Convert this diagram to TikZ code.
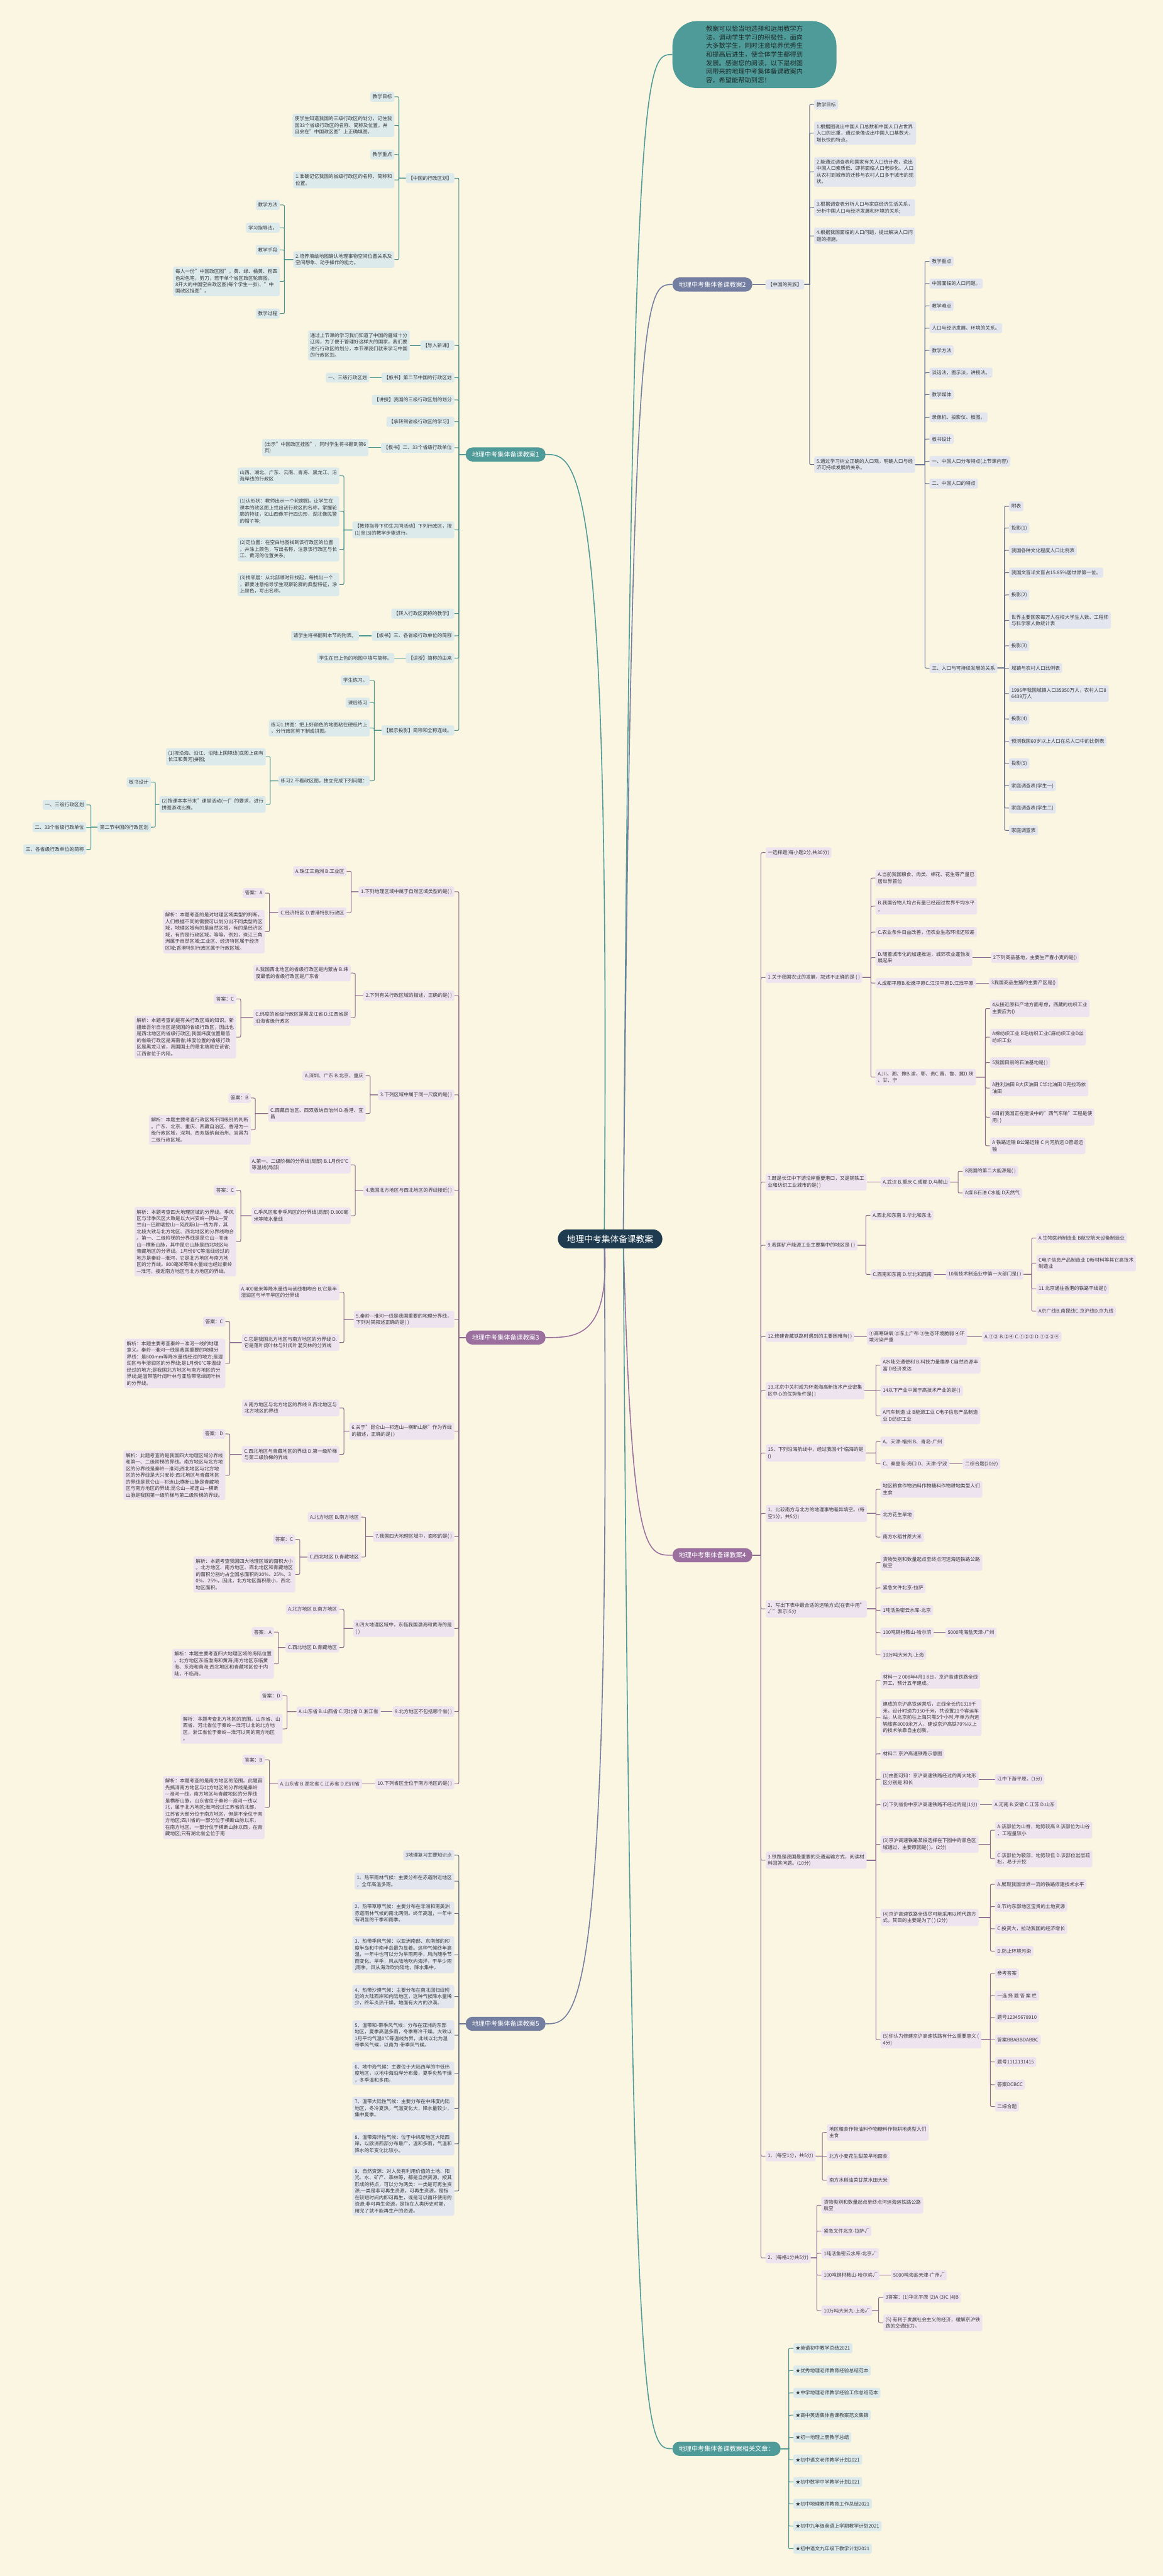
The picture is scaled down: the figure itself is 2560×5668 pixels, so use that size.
\documentclass[tikz,border=0pt]{standalone}
\usepackage{fontspec}
\setmainfont{Noto Sans CJK SC}
\usetikzlibrary{calc}
\definecolor{bgc}{HTML}{FBF6E1}
\definecolor{navy}{HTML}{1E3B4F}
\definecolor{tealM}{HTML}{4F9B99}
\definecolor{slateM}{HTML}{747EA0}
\definecolor{purpM}{HTML}{9B709F}
\definecolor{tealL}{HTML}{DCEAEC}
\definecolor{slateL}{HTML}{E3E6EF}
\definecolor{purpL}{HTML}{EEE4EF}
\definecolor{tealD}{HTML}{4A9593}
\definecolor{slateD}{HTML}{66708F}
\definecolor{purpD}{HTML}{8C6A90}
\definecolor{txt}{HTML}{3A3A3A}
\definecolor{topT}{HTML}{1E2B2B}
\pgfdeclarelayer{back}\pgfdeclarelayer{bg}\pgfsetlayers{back,bg,main}
\tikzset{
 nb/.style={rectangle, rounded corners=4pt, inner xsep=5pt, inner ysep=6pt, align=left, text=txt, font=\fontsize{10.7}{14.5}\selectfont},
 lt/.style={nb, fill=tealL},
 ls/.style={nb, fill=slateL},
 lp/.style={nb, fill=purpL},
 cT/.style={draw=tealD, line width=1.4pt},
 cS/.style={draw=slateD, line width=1.4pt},
 cP/.style={draw=purpD, line width=1.4pt},
 mT/.style={draw=tealM, line width=2.2pt},
 mS/.style={draw=slateM, line width=2.2pt},
 mP/.style={draw=purpM, line width=2.2pt},
 br/.style={rectangle, rounded corners=15pt, minimum height=31pt, inner xsep=14pt, text=white, font=\fontsize{14}{17}\selectfont},
}
\newcommand\nR[4]{\node[#1,anchor=west] (#2) at (#3) {#4};}
\newcommand\nL[4]{\node[#1,anchor=east] (#2) at (#3) {#4};}
\newcommand\conR[3]{\foreach \nd in {#3}{\draw[#1] let \p1=(#2.east), \p2=([xshift=-10pt]\nd.west) in (\p1) -- (\x2,\y1) -- (\x2,{\y2+min(6,max(-6,(\y1)-(\y2)))}) .. controls (\x2,\y2) .. (\x2+6pt,\y2) -- (\nd.west);}}
\newcommand\conL[3]{\foreach \nd in {#3}{\draw[#1] let \p1=(#2.west), \p2=([xshift=10pt]\nd.east) in (\p1) -- (\x2,\y1) -- (\x2,{\y2+min(6,max(-6,(\y1)-(\y2)))}) .. controls (\x2,\y2) .. (\x2-6pt,\y2) -- (\nd.east);}}
\begin{document}
\begin{tikzpicture}[x=1pt,y=-1pt]
\useasboundingbox (0,0) rectangle (2560,5668);
\begin{pgfonlayer}{back}
\fill[bgc] (0,0) rectangle (2560,5668);
\end{pgfonlayer}
% center
\node[fill=navy, text=white, rounded corners=21pt, minimum height=42pt, inner xsep=20pt, font=\fontsize{19}{22}\selectfont] (C) at (1343,2726) {地理中考集体备课教案};
% top box
\node[fill=tealM, text=topT, rounded corners=55pt, inner xsep=74pt, inner ysep=10pt, align=left, font=\fontsize{14.2}{19}\selectfont, anchor=west] (TOP) at (1480,120) {教案可以恰当地选择和运用教学方\\法，调动学生学习的积极性，面向\\大多数学生，同时注意培养优秀生\\和提高后进生，使全体学生都得到\\发展。感谢您的阅读，以下是树图\\网带来的地理中考集体备课教案内\\容，希望能帮助到您！};
% branches
\node[br, fill=slateM, anchor=west] (B2) at (1480,626) {地理中考集体备课教案2};
\node[br, fill=purpM, anchor=west] (B4) at (1480,3422) {地理中考集体备课教案4};
\node[br, fill=tealM, anchor=west] (B6) at (1480,5388) {地理中考集体备课教案相关文章：};
\node[br, fill=tealM, anchor=east] (B1) at (1201,1000) {地理中考集体备课教案1};
\node[br, fill=purpM, anchor=east] (B3) at (1201,2943) {地理中考集体备课教案3};
\node[br, fill=slateM, anchor=east] (B5) at (1201,4453) {地理中考集体备课教案5};

% ===== 教案2 =====
\nR{ls}{b2a}{1685,626}{【中国的民族】}
\nR{ls}{b2a1}{1792,230}{教学目标}
\nR{ls}{b2a2}{1792,293}{1.根据图说出中国人口总数和中国人口占世界\\人口的比重，通过录像说出中国人口基数大，\\增长快的特点。}
\nR{ls}{b2a3}{1792,378}{2.能通过调查表和国家有关人口统计表，说出\\中国人口素质低、即将面临人口老龄化、人口\\从农村到城市的迁移与农村人口多于城市的现\\状。}
\nR{ls}{b2a4}{1792,457}{3.根据调查表分析人口与家庭经济生活关系，\\分析中国人口与经济发展和环境的关系;}
\nR{ls}{b2a5}{1792,519}{4.根据我国面临的人口问题，提出解决人口问\\题的措施。}
\nR{ls}{b2a6}{1792,1022}{5.通过学习树立正确的人口观，明确人口与经\\济可持续发展的关系。}
\nR{ls}{b2b1}{2046,575}{教学重点}
\nR{ls}{b2b2}{2046,624}{中国面临的人口问题。}
\nR{ls}{b2b3}{2046,673}{教学难点}
\nR{ls}{b2b4}{2046,722}{人口与经济发展、环境的关系。}
\nR{ls}{b2b5}{2046,771}{教学方法}
\nR{ls}{b2b6}{2046,820}{谈话法，图示法，讲授法。}
\nR{ls}{b2b7}{2046,868}{教学媒体}
\nR{ls}{b2b8}{2046,918}{录像机、投影仪、板图。}
\nR{ls}{b2b9}{2046,966}{板书设计}
\nR{ls}{b2b10}{2046,1015}{一、中国人口分布特点(上节课内容)}
\nR{ls}{b2b11}{2046,1064}{二、中国人口的特点}
\nR{ls}{b2b12}{2046,1470}{三、人口与可持续发展的关系}
\nR{ls}{c1}{2221,1114}{附表}
\nR{ls}{c2}{2221,1162}{投影(1)}
\nR{ls}{c3}{2221,1211}{我国各种文化程度人口比例表}
\nR{ls}{c4}{2221,1260}{我国文盲半文盲占15.85\%居世界第一位。}
\nR{ls}{c5}{2221,1309}{投影(2)}
\nR{ls}{c6}{2221,1365}{世界主要国家每万人在校大学生人数、工程师\\与科学家人数统计表}
\nR{ls}{c7}{2221,1421}{投影(3)}
\nR{ls}{c8}{2221,1470}{城镇与农村人口比例表}
\nR{ls}{c9}{2221,1526}{1996年我国城镇人口35950万人，农村人口8\\6439万人}
\nR{ls}{c10}{2221,1582}{投影(4)}
\nR{ls}{c11}{2221,1631}{预测我国60岁以上人口在总人口中的比例表}
\nR{ls}{c12}{2221,1680}{投影(5)}
\nR{ls}{c13}{2221,1729}{家庭调查表(学生一)}
\nR{ls}{c14}{2221,1778}{家庭调查表(学生二)}
\nR{ls}{c15}{2221,1827}{家庭调查表}

% ===== 教案4 =====
\nR{lp}{d1}{1685,1876}{一选择题(每小题2分,共30分)}
\nR{lp}{d2}{1685,2151}{1.关于我国农业的发展，叙述不正确的是 ( )}
\nR{lp}{d3}{1685,2601}{7.既是长江中下游沿岸重要港口，又是钢铁工\\业和纺织工业城市的是( )}
\nR{lp}{d4}{1685,2740}{9.我国矿产能源工业主要集中的地区是 ( )}
\nR{lp}{d5}{1685,2941}{12.修建青藏铁路时遇到的主要困难有( )}
\nR{lp}{d6}{1685,3060}{13.北京中关村成为环渤海高新技术产业密集\\区中心的优势条件是( )}
\nR{lp}{d7}{1685,3197}{15、下列沿海航线中，经过我国4个临海的是\\()}
\nR{lp}{d8}{1685,3330}{1、比较南方与北方的地理事物差异填空。(每\\空1分，共5分)}
\nR{lp}{d9}{1685,3540}{2、写出下表中最合适的运输方式(在表中用"\\√"表示)5分}
\nR{lp}{d10}{1685,4093}{3.铁路是我国最重要的交通运输方式，阅读材\\料回答问题。(10分)}
\nR{lp}{d11}{1685,4744}{1、(每空1分，共5分)}
\nR{lp}{d12}{1685,4968}{2、(每格1分共5分)}
% d2
\nR{lp}{d2a}{1927,1932}{A.当前我国粮食、肉类、棉花、花生等产量已\\居世界首位}
\nR{lp}{d2b}{1927,1994}{B.我国谷物人均占有量已经超过世界平均水平\\，}
\nR{lp}{d2c}{1927,2051}{C.农业条件日益改善，但农业生态环境还较差}
\nR{lp}{d2d}{1927,2107}{D.随着城市化的加速推进，城郊农业蓬勃发\\展起来}
\nR{lp}{d2d1}{2181,2107}{2下列商品基地，主要生产春小麦的是()}
\nR{lp}{d2e}{1927,2163}{A.成都平原B.松嫩平原C.江汉平原D.江淮平原}
\nR{lp}{d2e1}{2177,2163}{3我国商品生猪的主要产区是()}
\nR{lp}{d2f}{1927,2370}{A.川、湘、豫B.渝、鄂、贵C.晋、鲁、冀D.陕\\、甘、宁}
\nR{lp}{d2f1}{2179,2219}{4从接近原料产地方面考虑，西藏的纺织工业\\主要应为()}
\nR{lp}{d2f2}{2179,2282}{A棉纺织工业 B毛纺织工业C麻纺织工业D丝\\纺织工业}
\nR{lp}{d2f3}{2179,2338}{5我国目前的石油基地是( )}
\nR{lp}{d2f4}{2179,2394}{A胜利油田 B大庆油田 C华北油田 D克拉玛依\\油田}
\nR{lp}{d2f5}{2179,2458}{6目前我国正在建设中的"西气东输"工程是使\\用( )}
\nR{lp}{d2f6}{2179,2521}{A 铁路运输 B公路运输 C 内河航运 D管道运\\输}
% d3
\nR{lp}{d3a}{1938,2601}{A.武汉 B.重庆 C.成都 D.马鞍山}
\nR{lp}{d3a1}{2119,2577}{8我国的第二大能源是( )}
\nR{lp}{d3a2}{2119,2625}{A煤 B石油 C水能 D天然气}
% d4
\nR{lp}{d4a}{1916,2674}{A.西北和东南 B.华北和东北}
\nR{lp}{d4b}{1916,2804}{C.西南和东南 D.华北和西南}
\nR{lp}{d4b1}{2082,2804}{10高技术制造业中第一大部门是( )}
\nR{lp}{d4c1}{2281,2724}{A 生物医药制造业 B航空航天设备制造业}
\nR{lp}{d4c2}{2281,2779}{C电子信息产品制造业 D新材料等其它高技术\\制造业}
\nR{lp}{d4c3}{2281,2836}{11 北京通往香港的铁路干线是()}
\nR{lp}{d4c4}{2281,2885}{A京广线B.南昆线C.京沪线D.京九线}
% d5
\nR{lp}{d5a}{1908,2941}{①高寒缺氧 ②冻土广布 ③生态环境脆弱 ④环\\境污染严重}
\nR{lp}{d5b}{2162,2941}{A.①③ B.②④ C.①②③ D.①②③④}
% d6
\nR{lp}{d6a}{1938,3004}{A水陆交通便利 B.科技力量雄厚 C自然资源丰\\富 D经济发达}
\nR{lp}{d6b}{1938,3060}{14以下产业中属于高技术产业的是( )}
\nR{lp}{d6c}{1938,3115}{A汽车制造 业 B能源工业 C电子信息产品制造\\业 D纺织工业}
% d7
\nR{lp}{d7a}{1938,3172}{A、天津-福州 B、青岛-广州}
\nR{lp}{d7b}{1938,3221}{C、秦皇岛-海口 D、天津-宁波}
\nR{lp}{d7b1}{2119,3221}{二综合题(20分)}
% d8
\nR{lp}{d8a}{1938,3277}{地区粮食作物油料作物糖料作物耕地类型人们\\主食}
\nR{lp}{d8b}{1938,3333}{北方花生旱地}
\nR{lp}{d8c}{1938,3382}{南方水稻甘蔗大米}
% d9
\nR{lp}{d9a}{1938,3438}{货物类别和数量起点至终点河运海运铁路公路\\航空}
\nR{lp}{d9b}{1938,3494}{紧急文件北京-拉萨}
\nR{lp}{d9c}{1938,3543}{1吨活鱼密云水库-北京}
\nR{lp}{d9d}{1938,3592}{100吨钢材鞍山-哈尔滨}
\nR{lp}{d9d1}{2081,3592}{5000吨海盐天津-广州}
\nR{lp}{d9e}{1938,3641}{10万吨大米九-上海}
% d10
\nR{lp}{e1}{1938,3697}{材料一 2 008年4月1 8日，京沪高速铁路全线\\开工，预计五年建成。}
\nR{lp}{e2}{1938,3779}{建成的京沪高铁运营后，正线全长约1318千\\米，设计时速为350千米，共设置21个客运车\\站。从北京前往上海只需5个小时,年单方向运\\输旅客8000余万人，建设京沪高铁70％以上\\的技术依靠自主创新。}
\nR{lp}{e3}{1938,3859}{材料二 京沪高速铁路示意图}
\nR{lp}{e4}{1938,3915}{(1)由图可知：京沪高速铁路经过的两大地形\\区分别是 和长}
\nR{lp}{e4a}{2190,3915}{江中下游平原。(1分)}
\nR{lp}{e5}{1938,3971}{(2)下列省份中京沪高速铁路不经过的是(1分)}
\nR{lp}{e5a}{2184,3971}{A.河南 B.安徽 C.江苏 D.山东}
\nR{lp}{e6}{1938,4058}{(3)京沪高速铁路某段选择在下图中的黑色区\\域通过，主要原因是( )。(2分)}
\nR{lp}{e6a}{2190,4027}{A.该部位为山脊，地势较高 B.该部位为山谷\\，工程量较小}
\nR{lp}{e6b}{2190,4090}{C.该部位为鞍部，地势较低 D.该部位岩层疏\\松，易于开挖}
\nR{lp}{e7}{1938,4219}{(4)京沪高速铁路全线尽可能采用以桥代路方\\式，其目的主要是为了( ) (2分)}
\nR{lp}{e7a}{2190,4146}{A.展现我国世界一流的铁路修建技术水平}
\nR{lp}{e7b}{2190,4195}{B.节约东部地区宝贵的土地资源}
\nR{lp}{e7c}{2190,4244}{C.投资大，拉动我国的经济增长}
\nR{lp}{e7d}{2190,4293}{D.防止环境污染}
\nR{lp}{e8}{1938,4488}{(5)你认为修建京沪高速铁路有什么重要意义 (\\4分)}
\nR{lp}{e8a}{2190,4342}{参考答案}
\nR{lp}{e8b}{2190,4391}{一选 择 题 答 案 栏}
\nR{lp}{e8c}{2190,4439}{题号12345678910}
\nR{lp}{e8d}{2190,4488}{答案BBABBDABBC}
\nR{lp}{e8e}{2190,4537}{题号1112131415}
\nR{lp}{e8f}{2190,4587}{答案DCBCC}
\nR{lp}{e8g}{2190,4635}{二综合题}
% d11
\nR{lp}{d11a}{1820,4692}{地区粮食作物油料作物糖料作物耕地类型人们\\主食}
\nR{lp}{d11b}{1820,4744}{北方小麦花生甜菜旱地面食}
\nR{lp}{d11c}{1820,4797}{南方水稻油菜甘蔗水田大米}
% d12
\nR{lp}{d12a}{1808,4852}{货物类别和数量起点至终点河运海运铁路公路\\航空}
\nR{lp}{d12b}{1808,4909}{紧急文件北京-拉萨√}
\nR{lp}{d12c}{1808,4958}{1吨活鱼密云水库-北京√}
\nR{lp}{d12d}{1808,5006}{100吨钢材鞍山-哈尔滨√}
\nR{lp}{d12d1}{1961,5006}{5000吨海盐天津-广州√}
\nR{lp}{d12e}{1808,5084}{10万吨大米九-上海√}
\nR{lp}{d12e1}{1944,5055}{3答案：(1)华北平原 (2)A (3)C (4)B}
\nR{lp}{d12e2}{1944,5111}{(5) 有利于发展社会主义的经济，缓解京沪铁\\路的交通压力。}

% ===== 相关文章 =====
\nR{lt}{h1}{1746,5167}{★英语初中教学总结2021}
\nR{lt}{h2}{1746,5216}{★优秀地理老师教育经验总结范本}
\nR{lt}{h3}{1746,5265}{★中学地理老师教学经验工作总结范本}
\nR{lt}{h4}{1746,5314}{★高中英语集体备课教案范文集锦}
\nR{lt}{h5}{1746,5363}{★初一地理上册教学总结}
\nR{lt}{h6}{1746,5412}{★初中语文老师教学计划2021}
\nR{lt}{h7}{1746,5461}{★初中数学中学教学计划2021}
\nR{lt}{h8}{1746,5509}{★初中地理教师教育工作总结2021}
\nR{lt}{h9}{1746,5558}{★初中九年级英语上学期教学计划2021}
\nR{lt}{h10}{1746,5608}{★初中语文九年级下教学计划2021}

% ===== 教案1 =====
\nL{lt}{a1}{1000,392}{【中国的行政区划】}
\nL{lt}{a1a}{868,213}{教学目标}
\nL{lt}{a1b}{868,276}{使学生知道我国的三级行政区的划分，记住我\\国33个省级行政区的名称、简称及位置，并\\且会在"中国政区图"上正确填图。}
\nL{lt}{a1c}{868,340}{教学重点}
\nL{lt}{a1d}{868,396}{1.准确记忆我国的省级行政区的名称、简称和\\位置。}
\nL{lt}{a1e}{868,571}{2.培养填绘地图确认地理事物空间位置关系及\\空间想象、动手操作的能力。}
\nL{lt}{a1e1}{616,451}{教学方法}
\nL{lt}{a1e2}{616,501}{学习指导法。}
\nL{lt}{a1e3}{616,550}{教学手段}
\nL{lt}{a1e4}{616,619}{每人一份"中国政区图"，黄、绿、橘黄、粉四\\色彩色笔，剪刀，若干单个省区政区轮廓图，\\8开大的中国空白政区图(每个学生一张)、"中\\国政区挂图"。}
\nL{lt}{a1e5}{616,690}{教学过程}
\nL{lt}{a2}{1000,760}{【导入新课】}
\nL{lt}{a2a}{902,760}{通过上节课的学习我们知道了中国的疆域十分\\辽阔，为了便于管理好这样大的国家，我们要\\进行行政区的划分，本节课我们就来学习中国\\的行政区划。}
\nL{lt}{a3}{1000,831}{【板书】第二节中国的行政区划}
\nL{lt}{a3a}{813,831}{一、三级行政区划}
\nL{lt}{a4}{1000,880}{【讲授】我国的三级行政区划的划分}
\nL{lt}{a5}{1000,928}{【承转到省级行政区的学习】}
\nL{lt}{a6}{1000,985}{【板书】二、33个省级行政单位}
\nL{lt}{a6a}{811,985}{(出示"中国政区挂图"，同时学生将书翻到第6\\页)}
\nL{lt}{a7}{1000,1166}{【教师指导下师生共同活动】下列行政区，按\\(1)至(3)的教学步骤进行。}
\nL{lt}{a7a}{747,1047}{山西、湖北、广东、云南、青海、黑龙江、沿\\海岸线的行政区}
\nL{lt}{a7b}{747,1125}{(1)认形状：教师出示一个轮廓图，让学生在\\课本的政区图上找出该行政区的名称，掌握轮\\廓的特征，如山西像平行四边形，湖北像民警\\的帽子等;}
\nL{lt}{a7c}{747,1209}{(2)定位置：在空白地图找到该行政区的位置\\，并涂上颜色，写出名称，注意该行政区与长\\江、黄河的位置关系;}
\nL{lt}{a7d}{747,1286}{(3)找邻居：从北部顺时针找起，每找出一个\\，都要注意指导学生观察轮廓的典型特征，涂\\上颜色，写出名称。}
\nL{lt}{a8}{1000,1350}{【转入行政区简称的教学】}
\nL{lt}{a9}{1000,1399}{【板书】三、各省级行政单位的简称}
\nL{lt}{a9a}{790,1399}{请学生将书翻到本节的附表。}
\nL{lt}{a10}{1000,1448}{【讲授】简称的由来}
\nL{lt}{a10a}{868,1448}{学生在已上色的地图中填写简称。}
\nL{lt}{a11}{1000,1607}{【展示投影】简称和全称连线。}
\nL{lt}{a11a}{814,1497}{学生练习。}
\nL{lt}{a11b}{814,1546}{课后练习}
\nL{lt}{a11c}{814,1602}{练习1.拼图：把上好颜色的地图粘在硬纸片上\\，分行政区剪下制成拼图。}
\nL{lt}{a11d}{814,1718}{练习2.不看政区图，独立完成下列问题：}
\nL{lt}{a11d1}{585,1665}{(1)按沿海、沿江、沿陆上国境线(底图上画有\\长江和黄河)拼图;}
\nL{lt}{a11d2}{585,1770}{(2)按课本本节末"课堂活动(一)"的要求，进行\\拼图游戏比赛。}
\nL{lt}{a11e1}{332,1721}{板书设计}
\nL{lt}{a11e2}{332,1820}{第二节中国的行政区划}
\nL{lt}{a11f1}{190,1771}{一、三级行政区划}
\nL{lt}{a11f2}{190,1820}{二、33个省级行政单位}
\nL{lt}{a11f3}{190,1869}{三、各省级行政单位的简称}

% ===== 教案3 =====
\nL{lp}{f1}{1000,1962}{1.下列地理区域中属于自然区域类型的是( )}
\nL{lp}{f1a}{763,1917}{A.珠江三角洲 B.工业区}
\nL{lp}{f1b}{763,2008}{C.经济特区 D.香港特别行政区}
\nL{lp}{f1b1}{583,1965}{答案：A}
\nL{lp}{f1b2}{583,2050}{解析：本题考查的是对地理区域类型的判断。\\人们根据不同的需要可以划分出不同类型的区\\域，地理区域有的是自然区域，有的是经济区\\域，有的是行政区域，等等。例如，珠江三角\\洲属于自然区域;工业区、经济特区属于经济\\区域;香港特别行政区属于行政区域。}
\nL{lp}{f2}{1000,2191}{2.下列有关行政区域的描述，正确的是( )}
\nL{lp}{f2a}{772,2141}{A.我国西北地区的省级行政区是内蒙古 B.纬\\度最低的省级行政区是广东省}
\nL{lp}{f2b}{772,2239}{C.纬度的省级行政区是黑龙江省 D.江西省是\\沿海省级行政区}
\nL{lp}{f2b1}{520,2198}{答案：C}
\nL{lp}{f2b2}{520,2282}{解析：本题考查的是有关行政区域的知识。新\\疆维吾尔自治区是我国的省级行政区，因此也\\是西北地区的省级行政区;我国纬度位置最低\\的省级行政区是海南省;纬度位置的省级行政\\区是黑龙江省，我国国土的最北端就在该省;\\江西省位于内陆。}
\nL{lp}{f3}{1000,2409}{3.下列区域中属于同一尺度的是( )}
\nL{lp}{f3a}{805,2367}{A.深圳、广东 B.北京、重庆}
\nL{lp}{f3b}{805,2450}{C.西藏自治区、西双版纳自治州 D.香港、宜\\昌}
\nL{lp}{f3b1}{552,2416}{答案：B}
\nL{lp}{f3b2}{552,2486}{解析：本题主要考查行政区域不同级别的判断\\。广东、北京、重庆、西藏自治区、香港为一\\级行政区域，深圳、西双版纳自治州、宜昌为\\二级行政区域。}
\nL{lp}{f4}{1000,2620}{4.我国北方地区与西北地区的界线接近( )}
\nL{lp}{f4a}{772,2563}{A.第一、二级阶梯的分界线(局部) B.1月份0°C\\等温线(局部)}
\nL{lp}{f4b}{772,2675}{C.季风区和非季风区的分界线(局部) D.800毫\\米等降水量线}
\nL{lp}{f4b1}{520,2619}{答案：C}
\nL{lp}{f4b2}{520,2732}{解析：本题考查四大地理区域的分界线。季风\\区与非季风区大致是以大兴安岭—阴山—贺\\兰山—巴颜喀拉山—冈底斯山一线为界，其\\北段大致与北方地区、西北地区的分界线吻合\\。第一、二级阶梯的分界线是昆仑山—祁连\\山—横断山脉，其中昆仑山脉是西北地区与\\青藏地区的分界线。1月份0°C等温线经过的\\地方是秦岭—淮河，它是北方地区与南方地\\区的分界线。800毫米等降水量线也经过秦岭\\—淮河，接近南方地区与北方地区的界线。}
\nL{lp}{f5}{1000,2903}{5.秦岭—淮河一线是我国重要的地理分界线，\\下列对其叙述正确的是( )}
\nL{lp}{f5a}{747,2843}{A.400毫米等降水量线与该线相吻合 B.它是半\\湿润区与半干旱区的分界线}
\nL{lp}{f5b}{747,2954}{C.它是我国北方地区与南方地区的分界线 D.\\它是落叶阔叶林与针阔叶混交林的分界线}
\nL{lp}{f5b1}{496,2908}{答案：C}
\nL{lp}{f5b2}{496,3000}{解析：本题主要考查秦岭—淮河一线的地理\\意义。秦岭—淮河一线是我国重要的地理分\\界线：是800mm等降水量线经过的地方;是湿\\润区与半湿润区的分界线;是1月份0°C等温线\\经过的地方;是我国北方地区与南方地区的分\\界线;是温带落叶阔叶林与亚热带常绿阔叶林\\的分界线。}
\nL{lp}{f6}{1000,3149}{6.关于"昆仑山—祁连山—横断山脉"作为界线\\的描述，正确的是( )}
\nL{lp}{f6a}{747,3098}{A.南方地区与北方地区的界线 B.西北地区与\\北方地区的界线}
\nL{lp}{f6b}{747,3200}{C.西北地区与青藏地区的界线 D.第一级阶梯\\与第二级阶梯的界线}
\nL{lp}{f6b1}{496,3155}{答案：D}
\nL{lp}{f6b2}{496,3246}{解析：此题考查的是我国四大地理区域分界线\\和第一、二级阶梯的界线。南方地区与北方地\\区的分界线是秦岭—淮河;西北地区与北方地\\区的分界线是大兴安岭;西北地区与青藏地区\\的界线是昆仑山—祁连山;横断山脉是青藏地\\区与南方地区的界线;昆仑山—祁连山—横断\\山脉是我国第一级阶梯与第二级阶梯的界线。}
\nL{lp}{f7}{1000,3381}{7.我国四大地理区域中，面积的是( )}
\nL{lp}{f7a}{795,3338}{A.北方地区 B.南方地区}
\nL{lp}{f7b}{795,3426}{C.西北地区 D.青藏地区}
\nL{lp}{f7b1}{650,3387}{答案：C}
\nL{lp}{f7b2}{650,3464}{解析：本题考查我国四大地理区域的面积大小\\。北方地区、南方地区、西北地区和青藏地区\\的面积分别约占全国总面积的20\%、25\%、3\\0\%、25\%，因此，北方地区面积最小，西北\\地区面积。}
\nL{lp}{f8}{1000,3583}{8.四大地理区域中，东临我国渤海和黄海的是\\( )}
\nL{lp}{f8a}{747,3541}{A.北方地区 B.南方地区}
\nL{lp}{f8b}{747,3625}{C.西北地区 D.青藏地区}
\nL{lp}{f8b1}{603,3591}{答案：A}
\nL{lp}{f8b2}{603,3661}{解析：本题主要考查四大地理区域的海陆位置\\。北方地区东临渤海和黄海;南方地区东临黄\\海、东海和南海;西北地区和青藏地区位于内\\陆，不临海。}
\nL{lp}{f9}{1000,3766}{9.北方地区不包括哪个省( )}
\nL{lp}{f9a}{838,3766}{A.山东省 B.山西省 C.河北省 D.浙江省}
\nL{lp}{f9a1}{622,3731}{答案：D}
\nL{lp}{f9a2}{622,3804}{解析：本题考查北方地区的范围。山东省、山\\西省、河北省位于秦岭—淮河以北的北方地\\区，浙江省位于秦岭—淮河以南的南方地区\\。}
\nL{lp}{f10}{1000,3925}{10.下列省区全位于南方地区的是( )}
\nL{lp}{f10a}{797,3925}{A.山东省 B.湖北省 C.江苏省 D.四川省}
\nL{lp}{f10a1}{583,3872}{答案：B}
\nL{lp}{f10a2}{583,3977}{解析：本题考查的是南方地区的范围。此题首\\先搞清南方地区与北方地区的分界线是秦岭\\—淮河一线，南方地区与青藏地区的分界线\\是横断山脉。山东省位于秦岭—淮河一线以\\北，属于北方地区;淮河经过江苏省的北部，\\江苏省大部分位于南方地区，但是不全位于南\\方地区;四川省的一部分位于横断山脉以东，\\在南方地区，一部分位于横断山脉以西，在青\\藏地区;只有湖北省全位于南}

% ===== 教案5 =====
\nL{ls}{g0}{1000,4082}{3地理复习主要知识点}
\nL{ls}{g1}{1000,4139}{1、热带雨林气候：主要分布在赤道附近地区\\，全年高温多雨。}
\nL{ls}{g2}{1000,4210}{2、热带草原气候：主要分布在非洲和南美洲\\赤道雨林气候的南北两侧。终年高温，一年中\\有明显的干季和雨季。}
\nL{ls}{g3}{1000,4301}{3、热带季风气候：以亚洲南部、东南部的印\\度半岛和中南半岛最为显着。这种气候终年高\\温，一年中也可以分为旱雨两季，风向随季节\\而变化。旱季，风从陆地吹向海洋，干旱少雨\\;雨季，风从海洋吹向陆地，降水集中。}
\nL{ls}{g4}{1000,4393}{4、热带沙漠气候：主要分布在南北回归线附\\近的大陆西岸和内陆地区，这种气候降水量稀\\少，终年炎热干燥，地面有大片的沙漠。}
\nL{ls}{g5}{1000,4478}{5、温带和-带季风气候：分布在亚洲的东部\\地区，夏季高温多雨，冬季寒冷干燥。大致以\\1月平均气温0°C等温线为界，此线以北为温\\带季风气候，以南为-带季风气候。}
\nL{ls}{g6}{1000,4562}{6、地中海气候：主要位于大陆西岸的中低纬\\度地区，以地中海沿岸分布最，夏季炎热干燥\\，冬季温和多雨。}
\nL{ls}{g7}{1000,4639}{7、温带大陆性气候：主要分布在中纬度内陆\\地区，冬冷夏热，气温变化大，降水量较少，\\集中夏季。}
\nL{ls}{g8}{1000,4717}{8、温带海洋性气候：位于中纬度地区大陆西\\岸，以欧洲西部分布最广，温和多雨，气温和\\降水的年变化比较小。}
\nL{ls}{g9}{1000,4821}{9、自然资源：对人类有利用价值的土地、阳\\光、水、矿产、森林等，都是自然资源。按其\\形成的特点，可以分为两类：一类是可再生资\\源;一类是非可再生资源。可再生资源，是指\\在较短时间内即可再生，或是可以循环使用的\\资源;非可再生资源，是指在人类历史时期，\\用完了就不能再生产的资源。}

% ===== connectors =====
\begin{pgfonlayer}{bg}
\draw[mT] (1372,2726) .. controls (1390,120) and (1420,120) .. (TOP.west);
\draw[mS] (1372,2726) .. controls (1390,626) and (1420,626) .. (B2.west);
\draw[mP] (1372,2726) .. controls (1390,3422) and (1420,3422) .. (B4.west);
\draw[mT] (1372,2726) .. controls (1390,5388) and (1420,5388) .. (B6.west);
\draw[mT] (1330,2726) .. controls (1345,1000) and (1270,1000) .. (B1.east);
\draw[mP] (1330,2726) .. controls (1345,2943) and (1270,2943) .. (B3.east);
\draw[mS] (1330,2726) .. controls (1345,4453) and (1270,4453) .. (B5.east);
% 2
\conR{cS}{B2}{b2a}
\conR{cS}{b2a}{b2a1,b2a2,b2a3,b2a4,b2a5,b2a6}
\conR{cS}{b2a6}{b2b1,b2b2,b2b3,b2b4,b2b5,b2b6,b2b7,b2b8,b2b9,b2b10,b2b11,b2b12}
\conR{cS}{b2b12}{c1,c2,c3,c4,c5,c6,c7,c8,c9,c10,c11,c12,c13,c14,c15}
% 4
\conR{cP}{B4}{d1,d2,d3,d4,d5,d6,d7,d8,d9,d10,d11,d12}
\conR{cP}{d2}{d2a,d2b,d2c,d2d,d2e,d2f}
\conR{cP}{d2d}{d2d1}
\conR{cP}{d2e}{d2e1}
\conR{cP}{d2f}{d2f1,d2f2,d2f3,d2f4,d2f5,d2f6}
\conR{cP}{d3}{d3a}
\conR{cP}{d3a}{d3a1,d3a2}
\conR{cP}{d4}{d4a,d4b}
\conR{cP}{d4b}{d4b1}
\conR{cP}{d4b1}{d4c1,d4c2,d4c3,d4c4}
\conR{cP}{d5}{d5a}
\conR{cP}{d5a}{d5b}
\conR{cP}{d6}{d6a,d6b,d6c}
\conR{cP}{d7}{d7a,d7b}
\conR{cP}{d7b}{d7b1}
\conR{cP}{d8}{d8a,d8b,d8c}
\conR{cP}{d9}{d9a,d9b,d9c,d9d,d9e}
\conR{cP}{d9d}{d9d1}
\conR{cP}{d10}{e1,e2,e3,e4,e5,e6,e7,e8}
\conR{cP}{e4}{e4a}
\conR{cP}{e5}{e5a}
\conR{cP}{e6}{e6a,e6b}
\conR{cP}{e7}{e7a,e7b,e7c,e7d}
\conR{cP}{e8}{e8a,e8b,e8c,e8d,e8e,e8f,e8g}
\conR{cP}{d11}{d11a,d11b,d11c}
\conR{cP}{d12}{d12a,d12b,d12c,d12d,d12e}
\conR{cP}{d12d}{d12d1}
\conR{cP}{d12e}{d12e1,d12e2}
% 6
\conR{cT}{B6}{h1,h2,h3,h4,h5,h6,h7,h8,h9,h10}
% 1
\conL{cT}{B1}{a1,a2,a3,a4,a5,a6,a7,a8,a9,a10,a11}
\conL{cT}{a1}{a1a,a1b,a1c,a1d,a1e}
\conL{cT}{a1e}{a1e1,a1e2,a1e3,a1e4,a1e5}
\conL{cT}{a2}{a2a}
\conL{cT}{a3}{a3a}
\conL{cT}{a6}{a6a}
\conL{cT}{a7}{a7a,a7b,a7c,a7d}
\conL{cT}{a9}{a9a}
\conL{cT}{a10}{a10a}
\conL{cT}{a11}{a11a,a11b,a11c,a11d}
\conL{cT}{a11d}{a11d1,a11d2}
\conL{cT}{a11d2}{a11e1,a11e2}
\conL{cT}{a11e2}{a11f1,a11f2,a11f3}
% 3
\conL{cP}{B3}{f1,f2,f3,f4,f5,f6,f7,f8,f9,f10}
\conL{cP}{f1}{f1a,f1b}
\conL{cP}{f1b}{f1b1,f1b2}
\conL{cP}{f2}{f2a,f2b}
\conL{cP}{f2b}{f2b1,f2b2}
\conL{cP}{f3}{f3a,f3b}
\conL{cP}{f3b}{f3b1,f3b2}
\conL{cP}{f4}{f4a,f4b}
\conL{cP}{f4b}{f4b1,f4b2}
\conL{cP}{f5}{f5a,f5b}
\conL{cP}{f5b}{f5b1,f5b2}
\conL{cP}{f6}{f6a,f6b}
\conL{cP}{f6b}{f6b1,f6b2}
\conL{cP}{f7}{f7a,f7b}
\conL{cP}{f7b}{f7b1,f7b2}
\conL{cP}{f8}{f8a,f8b}
\conL{cP}{f8b}{f8b1,f8b2}
\conL{cP}{f9}{f9a}
\conL{cP}{f9a}{f9a1,f9a2}
\conL{cP}{f10}{f10a}
\conL{cP}{f10a}{f10a1,f10a2}
% 5
\conL{cS}{B5}{g0,g1,g2,g3,g4,g5,g6,g7,g8,g9}
\end{pgfonlayer}
\end{tikzpicture}
\end{document}
